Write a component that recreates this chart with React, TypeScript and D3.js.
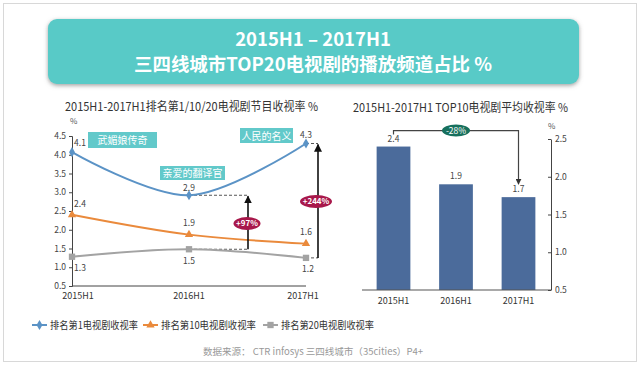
import React from "react";
import * as d3 from "d3";

const categories = ["2015H1", "2016H1", "2017H1"];
const top1 = [4.07, 2.92, 4.3];
const top10 = [2.4, 1.87, 1.63];
const top20 = [1.28, 1.48, 1.25];
const top1Labels = ["4.1", "2.9", "4.3"];
const top10Labels = ["2.4", "1.9", "1.6"];
const top20Labels = ["1.3", "1.5", "1.2"];
const leftTicks = [0.5, 1.0, 1.5, 2.0, 2.5, 3.0, 3.5, 4.0, 4.5];
const avgTop10 = [2.4, 1.9, 1.73];
const avgLabels = ["2.4", "1.9", "1.7"];
const rightTicks = [0.5, 1.0, 1.5, 2.0, 2.5];
const seriesNames = ["排名第1电视剧收视率", "排名第10电视剧收视率", "排名第20电视剧收视率"];
const dramaNames = ["武媚娘传奇", "亲爱的翻译官", "人民的名义"];

const FONT = "'Noto Sans CJK SC', 'Noto Sans', sans-serif";
const BLUE = "#5b93c6";
const ORANGE = "#ea8a3c";
const GRAY = "#a3a3a3";
const TEAL = "#62c9ca";
const BAR = "#4b6b9b";
const MAROON = "#a8184b";

export default function App() {
  const x = d3.scalePoint<string>().domain(categories).range([72, 306]);
  const y = d3.scaleLinear().domain([0.5, 4.5]).range([286, 136]);
  const line = d3
    .line<number>()
    .x((_, i) => x(categories[i]) as number)
    .y((d) => y(d))
    .curve(d3.curveCatmullRom.alpha(0.5));

  const xb = d3
    .scaleBand<string>()
    .domain(categories)
    .range([362, 550])
    .paddingInner(0.46)
    .paddingOuter(0.234);
  const yr = d3.scaleLinear().domain([0.5, 2.5]).range([290, 139]);

  const px = (i: number) => x(categories[i]) as number;
  const bc = (i: number) => (xb(categories[i]) as number) + xb.bandwidth() / 2;

  const diamond = d3.symbol(d3.symbolDiamond, 30)() as string;
  const triangle = d3.symbol(d3.symbolTriangle, 30)() as string;
  const square = d3.symbol(d3.symbolSquare, 40)() as string;

  const arrow1X = 248;
  const arrow2X = 318;

  const series = [
    { data: top1, labels: top1Labels, color: BLUE, sym: diamond },
    { data: top10, labels: top10Labels, color: ORANGE, sym: triangle },
    { data: top20, labels: top20Labels, color: GRAY, sym: square },
  ];

  const labelOffsets = [
    [ [8, -6], [0, -4], [0, -6] ],
    [ [8, -8], [0, -9], [0, -9] ],
    [ [8, 14], [0, 15], [2, 14] ],
  ];

  const bracketTop = yr(avgTop10[0]) - 16;

  return (
    <svg width={640} height={365} style={{ position: "absolute", left: 0, top: 0, fontFamily: FONT }}>
      <defs>
        <marker id="ah" viewBox="0 0 10 10" refX="9" refY="5" markerWidth="5" markerHeight="5" orient="auto">
          <path d="M0,0 L10,5 L0,10 z" fill="#111" />
        </marker>
        <marker id="ah2" viewBox="0 0 10 10" refX="9" refY="5" markerWidth="5" markerHeight="5" orient="auto">
          <path d="M0,0 L10,5 L0,10 z" fill="#333" />
        </marker>
        <filter id="sh" x="-10%" y="-20%" width="120%" height="150%">
          <feDropShadow dx="0" dy="1.5" stdDeviation="2" floodColor="#777" floodOpacity="0.7" />
        </filter>
      </defs>
      <rect x={0} y={0} width={640} height={365} fill="#fff" />
      <rect x={3.5} y={3.5} width={633} height={358} fill="#fff" stroke="#d8d8d8" strokeWidth={1} />

      {/* header */}
      <rect x={48} y={19} width={531} height={65} rx={9} fill="#58cac7" filter="url(#sh)" />
      <text x={313} y={46} textAnchor="middle" fill="#fff" fontSize={18.5} fontWeight="bold">2015H1 – 2017H1</text>
      <text x={313} y={71} textAnchor="middle" fill="#fff" fontSize={18.5} fontWeight="bold" textLength={358} lengthAdjust="spacingAndGlyphs">三四线城市TOP20电视剧的播放频道占比 %</text>

      {/* left chart */}
      <text x={65} y={111} fill="#333" fontSize={12} textLength={253} lengthAdjust="spacingAndGlyphs">2015H1-2017H1排名第1/10/20电视剧节目收视率 %</text>
      <text x={70} y={124} fill="#555" fontSize={8}>%</text>
      <g
        transform="translate(72,0)"
        ref={(g) => {
          if (g) {
            const sel = d3.select(g);
            sel.selectAll("*").remove();
            sel.call(d3.axisLeft(y).tickValues(leftTicks).tickFormat(d3.format(".1f")).tickSize(3).tickPadding(3));
            sel.select(".domain").attr("stroke", "#444");
            sel.selectAll(".tick line").attr("stroke", "#444");
            sel.selectAll("text").attr("fill", "#444").attr("font-size", 8.5).attr("font-family", FONT);
          }
        }}
      />
      <line x1={72} x2={306} y1={286} y2={286} stroke="#444" strokeWidth={1} />
      {categories.map((c, i) => (
        <text key={c} x={px(i) + (i === 0 ? 6 : i === 2 ? -3 : 0)} y={299} textAnchor="middle" fill="#333" fontSize={9}>
          {c}
        </text>
      ))}

      {/* drama label boxes */}
      <rect x={px(0) + 16} y={132} width={69} height={16} fill={TEAL} />
      <text x={px(0) + 50.5} y={144} textAnchor="middle" fill="#fff" fontSize={10}>{dramaNames[0]}</text>
      <rect x={px(1) - 29} y={166} width={65} height={14} fill={TEAL} />
      <text x={px(1) + 3.5} y={177} textAnchor="middle" fill="#fff" fontSize={10}>{dramaNames[1]}</text>
      <rect x={px(2) - 66} y={128} width={53} height={15} fill={TEAL} />
      <text x={px(2) - 39.5} y={139.5} textAnchor="middle" fill="#fff" fontSize={10}>{dramaNames[2]}</text>

      {/* dashed guides */}
      <line x1={px(1)} x2={arrow1X} y1={y(top1[1])} y2={y(top1[1])} stroke="#555" strokeDasharray="3,2" />
      <line x1={px(1)} x2={arrow1X} y1={y(top20[1])} y2={y(top20[1])} stroke="#555" strokeDasharray="3,2" />
      <line x1={px(2)} x2={arrow2X} y1={y(top1[2])} y2={y(top1[2])} stroke="#555" strokeDasharray="3,2" />
      <line x1={px(2)} x2={arrow2X} y1={y(top20[2])} y2={y(top20[2])} stroke="#555" strokeDasharray="3,2" />

      {/* lines */}
      {series.map((s, si) => (
        <g key={si}>
          <path d={line(s.data) as string} fill="none" stroke={s.color} strokeWidth={2} />
          {s.data.map((v, i) => (
            <path key={i} d={s.sym} transform={`translate(${px(i)},${y(v)})`} fill={s.color} />
          ))}
          {s.data.map((v, i) => (
            <text
              key={"l" + i}
              x={px(i) + labelOffsets[si][i][0]}
              y={y(v) + labelOffsets[si][i][1]}
              textAnchor="middle"
              fill="#444"
              fontSize={8.5}
            >
              {s.labels[i]}
            </text>
          ))}
        </g>
      ))}

      {/* arrows */}
      <line x1={arrow1X} x2={arrow1X} y1={y(top20[1])} y2={y(top1[1]) + 1} stroke="#111" strokeWidth={1.6} markerEnd="url(#ah)" />
      <line x1={arrow2X} x2={arrow2X} y1={y(top20[2])} y2={y(top1[2]) + 1} stroke="#111" strokeWidth={1.6} markerEnd="url(#ah)" />
      <ellipse cx={arrow1X - 1} cy={223.5} rx={13.5} ry={6.5} fill={MAROON} />
      <text x={arrow1X - 1} y={226.3} textAnchor="middle" fill="#fff" fontSize={8} fontWeight="bold">+97%</text>
      <ellipse cx={arrow2X - 2} cy={201.5} rx={16} ry={6.5} fill={MAROON} />
      <text x={arrow2X - 2} y={204.3} textAnchor="middle" fill="#fff" fontSize={8} fontWeight="bold">+244%</text>

      {/* right chart */}
      <text x={353} y={112} fill="#333" fontSize={12} textLength={215} lengthAdjust="spacingAndGlyphs">2015H1-2017H1 TOP10电视剧平均收视率 %</text>
      <text x={548} y={129} fill="#555" fontSize={8}>%</text>
      {avgTop10.map((v, i) => (
        <g key={i}>
          <rect x={xb(categories[i]) as number} y={yr(v)} width={xb.bandwidth()} height={yr(0.5) - yr(v)} fill={BAR} />
          <text x={bc(i)} y={yr(v) - 5} textAnchor="middle" fill="#444" fontSize={8.5}>{avgLabels[i]}</text>
          <text x={bc(i)} y={304} textAnchor="middle" fill="#333" fontSize={9}>{categories[i]}</text>
        </g>
      ))}
      <line x1={362} x2={551} y1={yr(0.5)} y2={yr(0.5)} stroke="#555" strokeWidth={1.2} />
      <g
        transform="translate(551,0)"
        ref={(g) => {
          if (g) {
            const sel = d3.select(g);
            sel.selectAll("*").remove();
            sel.call(d3.axisRight(yr).tickValues(rightTicks).tickFormat(d3.format(".1f")).tickSizeInner(-3).tickSizeOuter(0).tickPadding(4));
            sel.select(".domain").attr("stroke", "#444");
            sel.selectAll(".tick line").attr("stroke", "#444");
            sel.selectAll("text").attr("fill", "#444").attr("font-size", 8.5).attr("font-family", FONT);
          }
        }}
      />
      {/* bracket */}
      <path
        d={`M${bc(0)},${yr(avgTop10[0]) - 12} V${bracketTop} H${bc(2)} V${yr(avgTop10[2]) - 13}`}
        fill="none"
        stroke="#444"
        strokeWidth={1.2}
        markerEnd="url(#ah2)"
      />
      <ellipse cx={bc(1)} cy={bracketTop} rx={14} ry={6} fill="#17705d" />
      <text x={bc(1)} y={bracketTop + 3} textAnchor="middle" fill="#fff" fontSize={8.5}>-28%</text>

      {/* legend */}
      {series.map((s, i) => {
        const lx = [32, 143, 263][i];
        const tl = [88, 95, 93][i];
        return (
          <g key={i}>
            <line x1={lx} x2={lx + 15} y1={325} y2={325} stroke={s.color} strokeWidth={2} />
            <path d={s.sym} transform={`translate(${lx + 7.5},325)`} fill={s.color} />
            <text x={lx + 18} y={329} fill="#333" fontSize={10} textLength={tl} lengthAdjust="spacingAndGlyphs">{seriesNames[i]}</text>
          </g>
        );
      })}
      <text x={203} y={355} fill="#999" fontSize={9.5} textLength={220} lengthAdjust="spacingAndGlyphs">数据来源： CTR infosys 三四线城市（35cities）P4+</text>
    </svg>
  );
}
